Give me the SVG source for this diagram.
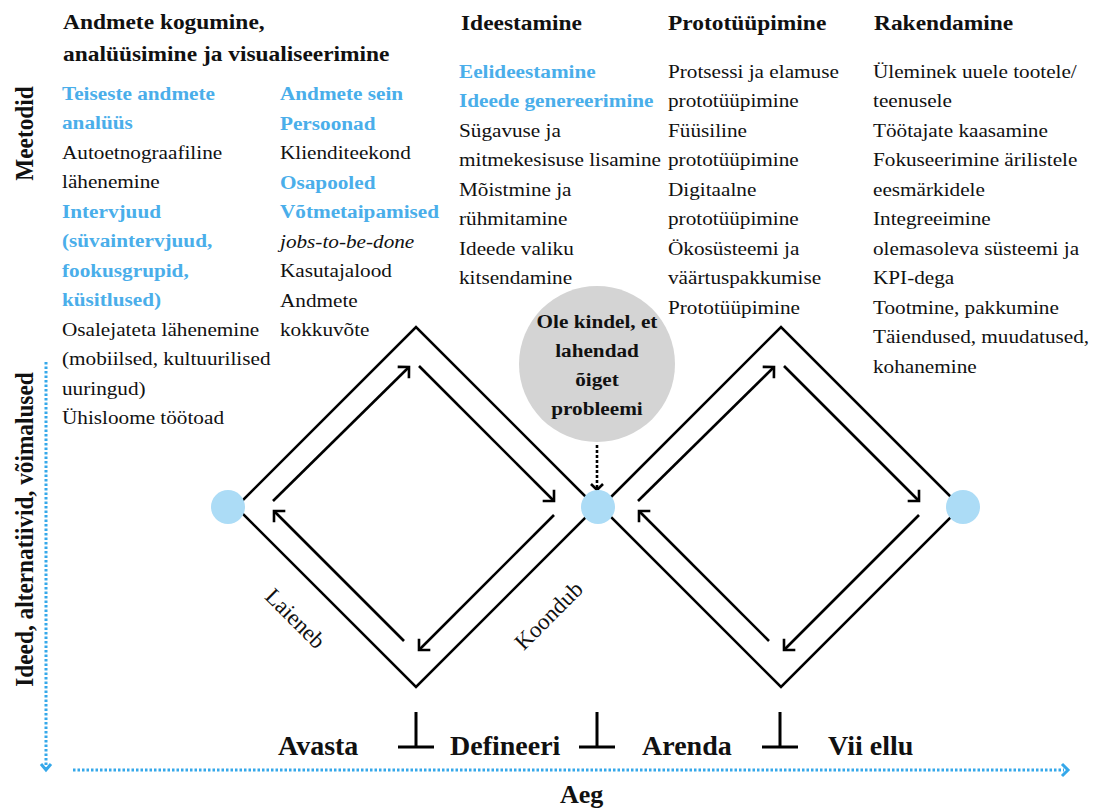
<svg xmlns="http://www.w3.org/2000/svg" width="1100" height="811" viewBox="0 0 1100 811">
  <style>
    text { font-family: "Liberation Serif", "Times New Roman", serif; fill: #111; }
    .h { font-size: 21.3px; font-weight: bold; }
    .t { font-size: 19.3px; }
    .b { font-size: 19.3px; font-weight: bold; fill: #4aaeea; }
    .i { font-size: 19.3px; font-style: italic; }
    .ax { font-size: 23.3px; font-weight: bold; }
    .ph { font-size: 28px; font-weight: bold; }
    .side { font-size: 23px; }
    .diag { fill: none; stroke: #000; stroke-width: 2.6; stroke-linejoin: miter; }
    .flow { fill: none; stroke: #000; stroke-width: 2.6; marker-end: url(#ah); }
    .dot { fill: none; stroke: #35a8ea; stroke-width: 3; stroke-dasharray: 2.5 2; }
    .tick { fill: none; stroke: #000; stroke-width: 3; }
    .node { fill: #acdcf6; }
  </style>
  <defs>
    <marker id="ah" markerUnits="userSpaceOnUse" markerWidth="24" markerHeight="24" viewBox="-12 -12 24 24" refX="0" refY="0" orient="auto" overflow="visible">
      <path d="M-8,-8 L0,0 L-8,8" fill="none" stroke="#000" stroke-width="2.6"/>
    </marker>
  </defs>

  <rect width="1100" height="811" fill="#fff"/>

  <!-- column headers -->
  <g id="headers">
    <g transform="translate(63,0) scale(1.1,1)">
      <text class="h" x="0" y="29">Andmete kogumine,</text>
      <text class="h" x="0" y="61">analüüsimine ja visualiseerimine</text>
    </g>
    <g transform="translate(461,0) scale(1.1,1)"><text class="h" x="0" y="30">Ideestamine</text></g>
    <g transform="translate(668,0) scale(1.1,1)"><text class="h" x="0" y="30">Prototüüpimine</text></g>
    <g transform="translate(874,0) scale(1.1,1)"><text class="h" x="0" y="30">Rakendamine</text></g>
  </g>

  <!-- method lists -->
  <g id="methods-discover-1" transform="translate(62,0) scale(1.1,1)">
    <text class="b" x="0" y="100">Teiseste andmete</text>
    <text class="b" x="0" y="129.5">analüüs</text>
    <text class="t" x="0" y="159">Autoetnograafiline</text>
    <text class="t" x="0" y="188.5">lähenemine</text>
    <text class="b" x="0" y="218">Intervjuud</text>
    <text class="b" x="0" y="247.5">(süvaintervjuud,</text>
    <text class="b" x="0" y="277">fookusgrupid,</text>
    <text class="b" x="0" y="306.5">küsitlused)</text>
    <text class="t" x="0" y="336">Osalejateta lähenemine</text>
    <text class="t" x="0" y="365.5">(mobiilsed, kultuurilised</text>
    <text class="t" x="0" y="395">uuringud)</text>
    <text class="t" x="0" y="424.5">Ühisloome töötoad</text>
  </g>
  <g id="methods-discover-2" transform="translate(280,0) scale(1.1,1)">
    <text class="b" x="0" y="100.5">Andmete sein</text>
    <text class="b" x="0" y="130">Persoonad</text>
    <text class="t" x="0" y="159.5">Klienditeekond</text>
    <text class="b" x="0" y="189">Osapooled</text>
    <text class="b" x="0" y="218.5">Võtmetaipamised</text>
    <text class="i" x="0" y="248">jobs-to-be-done</text>
    <text class="t" x="0" y="277.5">Kasutajalood</text>
    <text class="t" x="0" y="307">Andmete</text>
    <text class="t" x="0" y="336.5">kokkuvõte</text>
  </g>
  <g id="methods-ideate" transform="translate(459,0) scale(1.1,1)">
    <text class="b" x="0" y="78">Eelideestamine</text>
    <text class="b" x="0" y="107.5">Ideede genereerimine</text>
    <text class="t" x="0" y="137">Sügavuse ja</text>
    <text class="t" x="0" y="166.5">mitmekesisuse lisamine</text>
    <text class="t" x="0" y="196">Mõistmine ja</text>
    <text class="t" x="0" y="225.5">rühmitamine</text>
    <text class="t" x="0" y="255">Ideede valiku</text>
    <text class="t" x="0" y="284.5">kitsendamine</text>
  </g>
  <g id="methods-prototype" transform="translate(668,0) scale(1.1,1)">
    <text class="t" x="0" y="78">Protsessi ja elamuse</text>
    <text class="t" x="0" y="107.5">prototüüpimine</text>
    <text class="t" x="0" y="137">Füüsiline</text>
    <text class="t" x="0" y="166.5">prototüüpimine</text>
    <text class="t" x="0" y="196">Digitaalne</text>
    <text class="t" x="0" y="225.5">prototüüpimine</text>
    <text class="t" x="0" y="255">Ökosüsteemi ja</text>
    <text class="t" x="0" y="284.5">väärtuspakkumise</text>
    <text class="t" x="0" y="314">Prototüüpimine</text>
  </g>
  <g id="methods-deliver" transform="translate(873,0) scale(1.1,1)">
    <text class="t" x="0" y="78">Üleminek uuele tootele/</text>
    <text class="t" x="0" y="107.5">teenusele</text>
    <text class="t" x="0" y="137">Töötajate kaasamine</text>
    <text class="t" x="0" y="166.5">Fokuseerimine ärilistele</text>
    <text class="t" x="0" y="196">eesmärkidele</text>
    <text class="t" x="0" y="225.5">Integreeimine</text>
    <text class="t" x="0" y="255">olemasoleva süsteemi ja</text>
    <text class="t" x="0" y="284.5">KPI-dega</text>
    <text class="t" x="0" y="314">Tootmine, pakkumine</text>
    <text class="t" x="0" y="343.5">Täiendused, muudatused,</text>
    <text class="t" x="0" y="373">kohanemine</text>
  </g>

  <!-- axis labels -->
  <g id="axis-labels">
    <text class="ax" text-anchor="middle" transform="translate(33,133.5) scale(1.1,1) rotate(-90)">Meetodid</text>
    <text class="ax" text-anchor="middle" transform="translate(33,529.5) scale(1.1,1) rotate(-90)">Ideed, alternatiivid, võimalused</text>
    <text class="ax" x="560" y="803" style="font-size:26px">Aeg</text>
  </g>

  <!-- diamonds, flow arrows, axes -->
  <g id="connectors">
    <!-- outer diamonds -->
    <polygon class="diag" points="236,507 416,327 596,507 416,687"/>
    <polygon class="diag" points="601,507 781,327 961,507 781,687"/>
    <!-- inner cycle, first diamond -->
    <line class="flow" x1="273" y1="501" x2="409" y2="367"/>
    <line class="flow" x1="419" y1="366" x2="554" y2="501"/>
    <line class="flow" x1="554" y1="515" x2="419" y2="650"/>
    <line class="flow" x1="404" y1="641" x2="274" y2="511"/>
    <!-- inner cycle, second diamond -->
    <line class="flow" x1="638" y1="501" x2="774" y2="367"/>
    <line class="flow" x1="784" y1="366" x2="919" y2="501"/>
    <line class="flow" x1="919" y1="515" x2="784" y2="650"/>
    <line class="flow" x1="769" y1="641" x2="639" y2="511"/>
    <!-- dotted pointer from the note -->
    <line x1="597" y1="445" x2="597" y2="488" stroke="#000" stroke-width="2.6" stroke-dasharray="3 2"/>
    <path d="M591,484 L597,490 L603,484" fill="none" stroke="#000" stroke-width="2.6"/>
    <!-- phase separators -->
    <path class="tick" d="M416,712 V747 M398,747 H434"/>
    <path class="tick" d="M597,712 V747 M579,747 H615"/>
    <path class="tick" d="M780,712 V747 M762,747 H798"/>
    <!-- dotted axes -->
    <line class="dot" x1="46" y1="362" x2="46" y2="768"/>
    <path d="M41,764 L46,770 L51,764" fill="none" stroke="#35a8ea" stroke-width="3"/>
    <line class="dot" x1="73" y1="770" x2="1064" y2="770"/>
    <path d="M1062,764 L1068,770 L1062,776" fill="none" stroke="#35a8ea" stroke-width="3"/>
  </g>

  <!-- phase nodes -->
  <g id="node-start"><circle class="node" cx="228" cy="507" r="17"/></g>
  <g id="node-mid"><circle class="node" cx="598" cy="507" r="17"/></g>
  <g id="node-end"><circle class="node" cx="963" cy="507" r="17"/></g>

  <!-- note bubble -->
  <g id="note">
    <circle cx="597" cy="364" r="78" fill="#d4d4d4"/>
    <g transform="translate(597,0) scale(1.1,1)">
      <text class="t" x="0" y="328" text-anchor="middle" font-weight="bold">Ole kindel, et</text>
      <text class="t" x="0" y="357" text-anchor="middle" font-weight="bold">lahendad</text>
      <text class="t" x="0" y="386" text-anchor="middle" font-weight="bold">õiget</text>
      <text class="t" x="0" y="415" text-anchor="middle" font-weight="bold">probleemi</text>
    </g>
  </g>

  <!-- diverge / converge labels -->
  <g id="label-laieneb"><text class="side" x="0" y="0" text-anchor="middle" transform="translate(290,624) rotate(45)">Laieneb</text></g>
  <g id="label-koondub"><text class="side" x="0" y="0" text-anchor="middle" transform="translate(554,621) rotate(-45)">Koondub</text></g>

  <!-- phase names -->
  <g id="phases">
    <text class="ph" x="278" y="755">Avasta</text>
    <text class="ph" x="450" y="755">Defineeri</text>
    <text class="ph" x="642" y="755">Arenda</text>
    <text class="ph" x="828" y="755">Vii ellu</text>
  </g>
</svg>
